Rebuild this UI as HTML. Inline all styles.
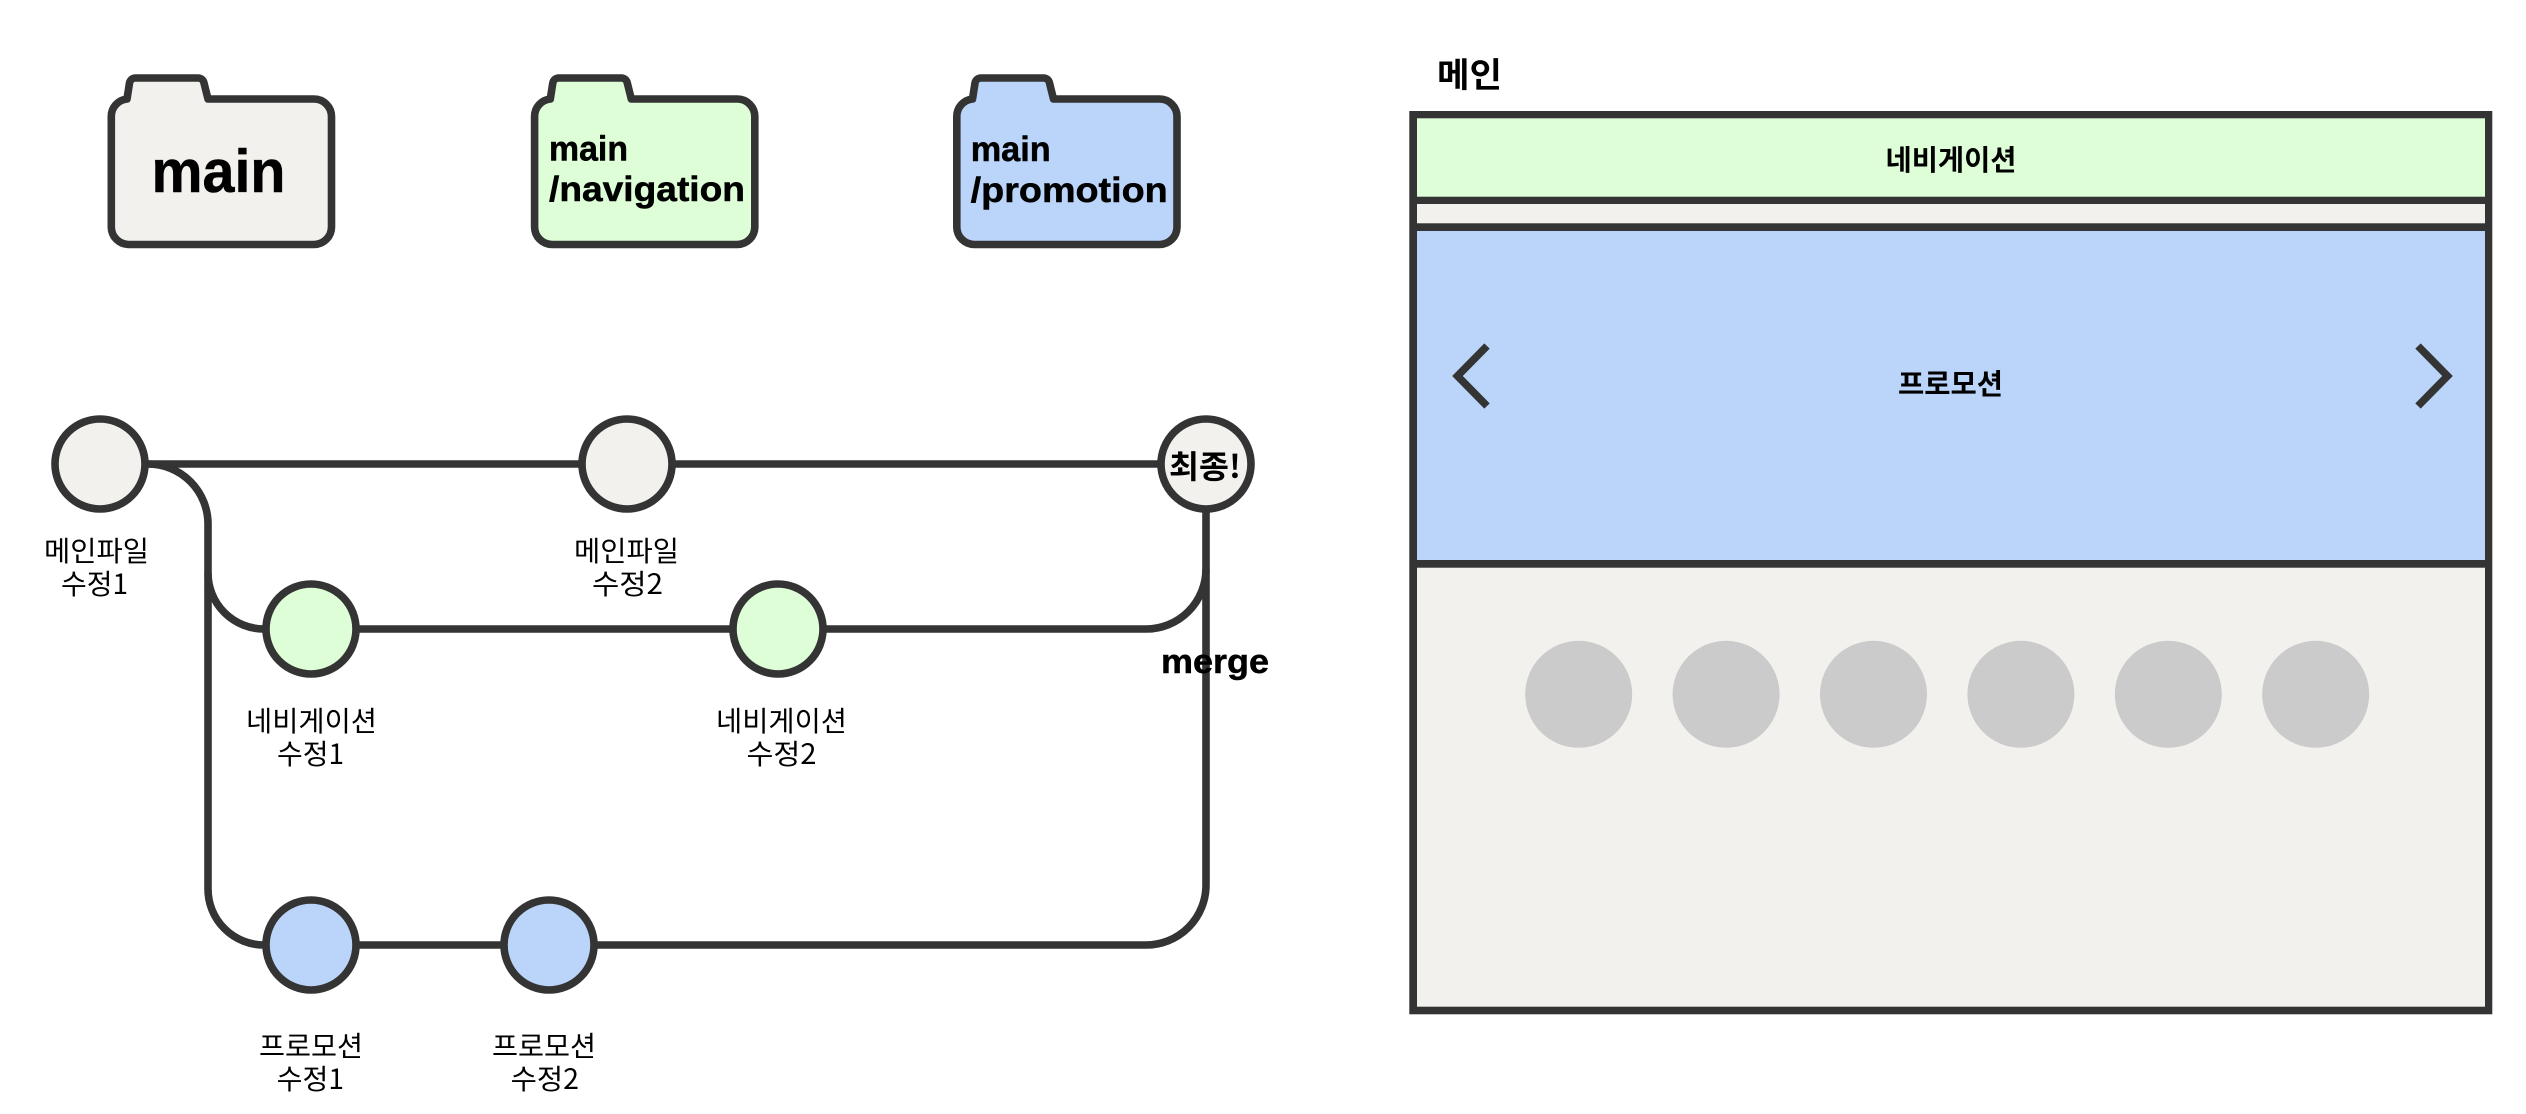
<!DOCTYPE html>
<html lang="ko">
<head>
<meta charset="utf-8">
<title>Git branch diagram</title>
<style>
html,body{margin:0;padding:0;background:#fff;width:2526px;height:1114px;overflow:hidden}
svg{display:block}
text{font-family:"Liberation Sans","Noto Sans CJK KR",sans-serif;fill:#000}
.k{font-family:"Noto Sans CJK KR","Liberation Sans",sans-serif;font-size:28px}
.kb{font-family:"Noto Sans CJK KR","Liberation Sans",sans-serif;font-weight:700}
.b{font-weight:700;stroke:#000;stroke-width:.5}
.s{fill:none;stroke:#343434;stroke-width:7.600}
.c{stroke:#343434;stroke-width:7.600}
</style>
</head>
<body>
<svg width="2526" height="1114" viewBox="0 0 2526 1114" xmlns="http://www.w3.org/2000/svg">
<defs>
<path id="folder" d="M127 99 L129.500 83 A6 6 0 0 1 135.500 78 L198 78 A6 6 0 0 1 204 83 L208 99 L314 99 A17.500 17.500 0 0 1 331.500 116.500 L331.500 227 A17.500 17.500 0 0 1 314 244.500 L128.800 244.500 A17.500 17.500 0 0 1 111.300 227 L111.300 116.500 A17.500 17.500 0 0 1 127 99 Z" stroke="#343434" stroke-width="7.600" stroke-linejoin="round"/>
</defs>

<!-- folders -->
<use href="#folder" fill="#F2F1ED"/>
<use href="#folder" fill="#DEFED8" x="423.300"/>
<use href="#folder" fill="#BBD5FA" x="845.500"/>
<text class="b" x="151.500" y="192" font-size="60" textLength="134" lengthAdjust="spacingAndGlyphs">main</text>
<text class="b" x="549" y="160.500" font-size="35" textLength="79" lengthAdjust="spacingAndGlyphs">main</text>
<text class="b" x="549" y="201" font-size="35" textLength="196" lengthAdjust="spacingAndGlyphs">/navigation</text>
<text class="b" x="970.700" y="161" font-size="35" textLength="80" lengthAdjust="spacingAndGlyphs">main</text>
<text class="b" x="970.700" y="202" font-size="35" textLength="197" lengthAdjust="spacingAndGlyphs">/promotion</text>

<!-- connectors -->
<path class="s" d="M100 464 L1206 464"/>
<path class="s" d="M148 464 A60 60 0 0 1 208 524 L208 889 A56 56 0 0 0 264 945 L1146 945 A60 60 0 0 0 1206 885 L1206 464"/>
<path class="s" d="M208 573 A56 56 0 0 0 264 629 L1146 629 A60 60 0 0 0 1206 569"/>

<!-- commits -->
<circle class="c" cx="100" cy="464" r="45" fill="#F2F1ED"/>
<circle class="c" cx="627" cy="464" r="45" fill="#F2F1ED"/>
<circle class="c" cx="1206" cy="464" r="45" fill="#F2F1ED"/>
<circle class="c" cx="311" cy="629" r="45" fill="#DEFED8"/>
<circle class="c" cx="778" cy="629" r="45" fill="#DEFED8"/>
<circle class="c" cx="311" cy="945" r="45" fill="#BBD5FA"/>
<circle class="c" cx="549" cy="945" r="45" fill="#BBD5FA"/>

<text class="kb" x="1169" y="478" font-size="32" textLength="72" lengthAdjust="spacingAndGlyphs">최종!</text>
<text class="b" x="1161" y="673" font-size="34" textLength="108" lengthAdjust="spacingAndGlyphs">merge</text>

<!-- labels -->
<text class="k" x="44" y="561" textLength="105" lengthAdjust="spacingAndGlyphs">메인파일</text>
<text class="k" x="61" y="594" textLength="67" lengthAdjust="spacingAndGlyphs">수정1</text>
<text class="k" x="574" y="561" textLength="105" lengthAdjust="spacingAndGlyphs">메인파일</text>
<text class="k" x="592" y="594" textLength="71" lengthAdjust="spacingAndGlyphs">수정2</text>
<text class="k" x="246" y="731" textLength="131" lengthAdjust="spacingAndGlyphs">네비게이션</text>
<text class="k" x="277" y="764" textLength="67" lengthAdjust="spacingAndGlyphs">수정1</text>
<text class="k" x="716" y="731" textLength="131" lengthAdjust="spacingAndGlyphs">네비게이션</text>
<text class="k" x="746.500" y="764" textLength="70" lengthAdjust="spacingAndGlyphs">수정2</text>
<text class="k" x="259" y="1056" textLength="104" lengthAdjust="spacingAndGlyphs">프로모션</text>
<text class="k" x="276.700" y="1089" textLength="67.300" lengthAdjust="spacingAndGlyphs">수정1</text>
<text class="k" x="492" y="1056" textLength="104" lengthAdjust="spacingAndGlyphs">프로모션</text>
<text class="k" x="510.700" y="1089" textLength="68.300" lengthAdjust="spacingAndGlyphs">수정2</text>

<!-- page wireframe -->
<text class="kb" x="1437" y="87" font-size="34" textLength="65" lengthAdjust="spacingAndGlyphs">메인</text>
<rect x="1409.300" y="111" width="1083" height="903.300" fill="#343434"/>
<rect x="1417" y="118.300" width="1068" height="78.400" fill="#DEFED8"/>
<rect x="1417" y="204" width="1068" height="19.300" fill="#F2F1ED"/>
<rect x="1417" y="231" width="1068" height="329" fill="#BBD5FA"/>
<rect x="1417" y="567.700" width="1068" height="439" fill="#F2F1ED"/>
<text class="kb" x="1885.500" y="170" font-size="28.500" textLength="131" lengthAdjust="spacingAndGlyphs">네비게이션</text>
<text class="kb" x="1898" y="394" font-size="28.500" textLength="105" lengthAdjust="spacingAndGlyphs">프로모션</text>
<polyline class="s" points="1487,346 1457.500,376 1487,406"/>
<polyline class="s" points="2418,346 2447.500,376 2418,406"/>
<g fill="#CBCBCB">
<circle cx="1578.700" cy="694.300" r="53.500"/>
<circle cx="1726.100" cy="694.300" r="53.500"/>
<circle cx="1873.500" cy="694.300" r="53.500"/>
<circle cx="2020.900" cy="694.300" r="53.500"/>
<circle cx="2168.300" cy="694.300" r="53.500"/>
<circle cx="2315.700" cy="694.300" r="53.500"/>
</g>
</svg>
</body>
</html>
